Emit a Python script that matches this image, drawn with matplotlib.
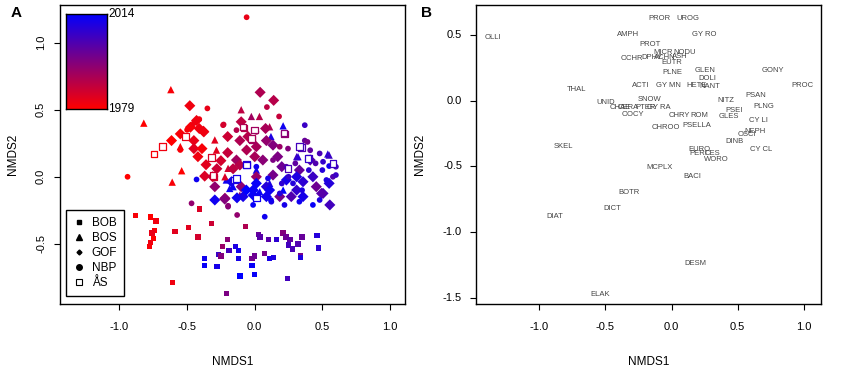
import numpy as np
import matplotlib
matplotlib.use("Agg")
import matplotlib.pyplot as plt
from matplotlib.lines import Line2D

plt.rcParams['font.family'] = ['Liberation Sans', 'DejaVu Sans']
plt.rcParams['axes.unicode_minus'] = False

# ---- panel A: NMDS site scores (x, y, year) ----
bob = [(-0.88,-0.29,1980), (-0.77,-0.30,1979), (-0.73,-0.33,1981), (-0.74,-0.40,1980), (-0.76,-0.42,1982),
       (-0.75,-0.46,1979), (-0.77,-0.49,1981), (-0.78,-0.52,1980), (-0.59,-0.41,1983), (-0.41,-0.24,1984),
       (-0.49,-0.38,1983), (-0.42,-0.45,1985), (-0.32,-0.35,1986), (-0.61,-0.79,1981), (-0.07,-0.37,1990),
       (-0.20,-0.47,1995), (-0.24,-0.52,1993), (-0.19,-0.55,2005), (-0.27,-0.58,2006), (-0.25,-0.59,1996),
       (-0.37,-0.61,2012), (-0.37,-0.66,2013), (-0.28,-0.67,2011), (-0.14,-0.52,2010), (-0.12,-0.55,2012),
       (-0.12,-0.61,2011), (-0.11,-0.74,2014), (-0.02,-0.66,2013), (-0.02,-0.61,1998), (0.00,-0.59,1999),
       (-0.00,-0.73,2013), (-0.21,-0.87,1997), (0.03,-0.43,2000), (0.04,-0.45,2002), (0.10,-0.47,2002),
       (0.07,-0.57,1998), (0.16,-0.47,2008), (0.14,-0.60,2010), (0.11,-0.61,2011), (0.21,-0.42,1996),
       (0.23,-0.45,1999), (0.26,-0.47,2001), (0.25,-0.51,2005), (0.28,-0.54,2004), (0.32,-0.50,2003),
       (0.35,-0.45,2000), (0.34,-0.59,1998), (0.34,-0.60,2010), (0.46,-0.44,2009), (0.47,-0.53,2008),
       (0.24,-0.76,2005)]

bos = [(-0.62,0.65,1980), (-0.82,0.40,1979), (-0.10,0.50,1988), (-0.025,0.45,1992), (0.035,0.45,1989),
       (-0.55,0.225,1980), (-0.54,0.045,1979), (-0.295,0.275,1983), (0.21,0.38,2012), (0.12,0.30,2010),
       (0.54,0.17,2008), (0.31,0.15,2005), (-0.61,-0.04,1980), (-0.21,-0.024,2012), (-0.16,-0.074,2013),
       (0.012,0.05,2011), (0.11,-0.049,2010), (0.21,-0.099,2014), (0.037,-0.111,2013), (0.32,0.15,2008),
       (0.55,0.162,2006), (-0.283,0.199,1983), (-0.197,0.063,1985), (-0.22,0.0,1984), (0.11,0.373,1990),
       (0.197,0.087,2009), (-0.185,-0.087,2012), (-0.11,-0.137,1994), (0.025,-0.124,2013)]

gof = [(-0.48,0.53,1981), (-0.475,0.37,1980), (-0.41,0.36,1981), (-0.376,0.335,1982), (-0.55,0.32,1980),
       (-0.615,0.27,1979), (-0.43,0.42,1981), (-0.45,0.27,1982), (-0.38,0.34,1981), (-0.45,0.21,1983),
       (-0.39,0.21,1980), (-0.36,0.09,1983), (-0.37,0.005,1984), (-0.42,0.15,1981), (-0.31,0.0,1986),
       (0.04,0.63,1990), (0.14,0.57,1989), (-0.10,0.41,1988), (-0.11,0.27,1990), (0.012,0.224,1991),
       (0.086,0.27,1994), (0.135,0.236,1996), (-0.06,0.20,1990), (-0.135,0.125,1992), (-0.11,0.088,1989),
       (0.012,0.0,1993), (0.06,0.125,1995), (0.17,0.15,1997), (0.20,0.075,1999), (0.135,0.013,1998),
       (0.33,0.05,2000), (0.41,0.125,2002), (0.455,-0.074,1999), (0.505,-0.124,2004), (0.555,-0.21,2005),
       (0.27,-0.148,2003), (0.185,-0.148,1998), (-0.10,-0.074,1995), (-0.22,-0.16,1993), (-0.295,-0.074,1994),
       (-0.295,-0.173,2012), (-0.086,-0.148,2011), (-0.012,-0.099,2013), (-0.172,-0.037,2012), (0.086,-0.074,2009),
       (0.31,-0.099,2007), (0.357,-0.037,2008), (0.43,0.0,2006), (0.55,-0.049,2009), (-0.062,-0.099,2014),
       (0.012,-0.049,2013), (0.11,-0.099,2012), (0.234,-0.024,2011), (0.31,0.0,2010), (0.086,-0.148,2012),
       (0.357,-0.148,2011), (-0.222,-0.166,1996), (-0.131,-0.157,2012), (-0.012,-0.137,2013), (0.494,-0.124,2002),
       (-0.25,0.12,1985), (-0.20,0.18,1987), (-0.16,0.06,1988), (-0.28,0.06,1986), (-0.05,0.30,1989),
       (0.0,0.15,1991), (-0.20,0.30,1986), (0.08,0.36,1991)]

nbp = [(-0.06,1.19,1982), (-0.35,0.51,1982), (0.09,0.52,1988), (0.18,0.45,1987), (-0.23,0.39,1985),
       (-0.41,0.43,1981), (-0.94,0.0,1979), (0.37,0.385,2006), (-0.43,-0.02,2012), (-0.135,0.348,1989),
       (0.012,0.335,1990), (0.185,0.224,1993), (0.246,0.21,1996), (0.37,0.27,2000), (0.39,0.26,1998),
       (0.41,0.198,2001), (0.48,0.174,2004), (0.505,0.112,2007), (0.60,0.075,2005), (0.578,0.0,2003),
       (0.53,-0.024,2010), (0.60,0.013,2006), (0.234,0.075,2002), (0.135,0.125,1997), (-0.234,0.385,1985),
       (-0.467,-0.198,1994), (-0.197,-0.223,1996), (-0.012,-0.21,2013), (0.22,-0.21,2011), (0.33,-0.186,2012),
       (0.43,-0.21,2013), (0.48,-0.173,2010), (0.123,-0.186,2010), (0.185,-0.124,2009), (0.283,-0.049,2009),
       (0.098,-0.012,2011), (0.012,0.075,2012), (0.12,-0.174,2012), (-0.197,-0.216,1995), (-0.13,-0.285,1994),
       (0.074,-0.298,2012), (-0.45,0.40,1981), (-0.50,0.35,1980), (-0.55,0.20,1980), (0.25,0.0,2007),
       (0.40,0.05,2008), (0.45,0.10,2003), (0.30,0.10,2001), (0.20,-0.05,2008), (0.35,-0.10,2010),
       (0.55,0.08,2012), (0.50,0.05,2009)]

aas = [(-0.745,0.17,1980), (-0.68,0.224,1981), (-0.51,0.30,1982), (-0.32,0.145,1984), (-0.30,0.0,1985),
       (-0.08,0.365,1989), (-0.02,0.28,1992), (0.22,0.32,1994), (0.345,0.22,2003), (0.40,0.14,2005),
       (0.58,0.10,2006), (-0.06,0.09,2008), (-0.15,-0.025,2010), (-0.135,-0.012,2011), (-0.062,0.088,2010),
       (0.394,0.137,2007), (0.33,0.224,2005), (0.246,0.062,2004), (-0.025,0.286,1991), (-0.086,0.373,1990),
       (0.0,0.348,1992), (0.217,0.328,1995), (0.012,-0.16,2012), (-0.31,0.01,1986)]

year_min, year_max = 1979, 2014

# ---- panel B: species scores ----
species = ['OLLI', 'PROR', 'UROG', 'AMPH', 'GY RO', 'PROT', 'OCHR', 'DPHY', 'MICR', 'NODU',
           'ACHN', 'ASH', 'EUTR', 'PLNE', 'GLEN', 'DOLI', 'ACTI', 'GY MN', 'HETE', 'NANT',
           'GONY', 'PROC', 'PSAN', 'THAL', 'UNID', 'SNOW', 'CHAE', 'CERA', 'PTER', 'GY RA',
           'OOCY', 'CHRY', 'ROM', 'NITZ', 'PSEI', 'GLES', 'PLNG', 'CY LI', 'CHROO', 'PSELLA',
           'NEPH', 'OSCI', 'DINB', 'CY CL', 'EURO', 'PERI', 'CES', 'WORO', 'SKEL', 'MCPLX',
           'BACI', 'BOTR', 'DICT', 'DIAT', 'DESM', 'ELAK']
sp_x = [-1.35, -0.09, 0.12, -0.33, 0.245, -0.165, -0.30, -0.15, -0.065, 0.10,
        -0.05, 0.06, 0.00, 0.01, 0.25, 0.27, -0.23, -0.02, 0.19, 0.29,
        0.77, 0.99, 0.64, -0.72, -0.50, -0.17, -0.39, -0.33, -0.20, -0.10,
        -0.29, 0.055, 0.21, 0.41, 0.475, 0.43, 0.70, 0.66, -0.04, 0.19,
        0.63, 0.57, 0.48, 0.68, 0.21, 0.20, 0.31, 0.34, -0.815, -0.09,
        0.155, -0.32, -0.45, -0.88, 0.18, -0.54]
sp_y = [0.48, 0.63, 0.63, 0.51, 0.51, 0.43, 0.32, 0.33, 0.37, 0.37,
        0.33, 0.34, 0.29, 0.22, 0.23, 0.17, 0.12, 0.12, 0.12, 0.11,
        0.23, 0.12, 0.04, 0.09, -0.01, 0.01, -0.05, -0.05, -0.05, -0.05,
        -0.10, -0.11, -0.11, 0.00, -0.07, -0.12, -0.04, -0.15, -0.20, -0.19,
        -0.23, -0.26, -0.31, -0.37, -0.37, -0.40, -0.40, -0.45, -0.35, -0.51,
        -0.58, -0.70, -0.82, -0.88, -1.24, -1.48]


def year_colors(years):
    t = (np.asarray(years, float) - year_min) / (year_max - year_min)
    return np.column_stack([1 - t, np.zeros_like(t), t])


def style_axes(ax, yrot):
    ax.tick_params(direction='out', length=4, width=0.8, labelsize=8)
    ax.tick_params(axis='x', pad=9)
    ax.tick_params(axis='y', pad=6)
    for s in ax.spines.values():
        s.set_linewidth(1.0)
    ax.set_xticks([-1.0, -0.5, 0.0, 0.5, 1.0])
    ax.set_xticklabels(['-1.0', '-0.5', '0.0', '0.5', '1.0'])
    ax.set_xlabel('NMDS1', fontsize=8.5, labelpad=17)
    ax.set_ylabel('NMDS2', fontsize=8.5, labelpad=12)
    for lab in ax.get_yticklabels():
        lab.set_rotation(yrot)
        lab.set_va('center')


fig = plt.figure(figsize=(8.56, 3.70), dpi=100)
axA = fig.add_axes([0.070, 0.178, 0.403, 0.808])
axB = fig.add_axes([0.556, 0.178, 0.403, 0.808])

# panel A
sites = [(bob, 's', 15, 'fill'), (bos, '^', 28, 'fill'), (gof, 'D', 32, 'fill'),
         (nbp, 'o', 17, 'fill'), (aas, 's', 22, 'open')]
for data, mk, size, kind in sites:
    arr = np.array(data)
    cols = year_colors(arr[:, 2])
    if kind == 'fill':
        axA.scatter(arr[:, 0], arr[:, 1], marker=mk, s=size, c=cols, linewidths=0, zorder=2)
    else:
        axA.scatter(arr[:, 0], arr[:, 1], marker=mk, s=size, facecolors='white',
                    edgecolors=cols, linewidths=0.9, zorder=3)

axA.set_xlim(-1.44, 1.11)
axA.set_ylim(-0.95, 1.28)
axA.set_yticks([-0.5, 0.0, 0.5, 1.0])
axA.set_yticklabels(['-0.5', '0.0', '0.5', '1.0'])
style_axes(axA, 90)

# colour key
cax = axA.inset_axes([0.017, 0.652, 0.119, 0.318])
grad = np.linspace(1, 0, 200).reshape(-1, 1)
key = np.dstack([1 - grad, np.zeros_like(grad), grad])
cax.imshow(key, aspect='auto', extent=[0, 1, 0, 1])
cax.set_xticks([])
cax.set_yticks([])
for s in cax.spines.values():
    s.set_linewidth(1.0)
cax.text(1.03, 1.0, str(year_max), transform=cax.transAxes, fontsize=8.5, va='center', ha='left')
cax.text(1.03, 0.0, str(year_min), transform=cax.transAxes, fontsize=8.5, va='center', ha='left')

handles = [Line2D([], [], ls='', marker='s', ms=3.5, color='k'),
           Line2D([], [], ls='', marker='^', ms=4.5, color='k'),
           Line2D([], [], ls='', marker='D', ms=2.5, color='k'),
           Line2D([], [], ls='', marker='o', ms=4, color='k'),
           Line2D([], [], ls='', marker='s', ms=4, mfc='white', mec='k', mew=0.8)]
leg = axA.legend(handles, ['BOB', 'BOS', 'GOF', 'NBP', 'ÅS'], loc='lower left',
                 bbox_to_anchor=(0.017, 0.027), borderaxespad=0, fontsize=8.5,
                 handlelength=1.0, handletextpad=0.6, labelspacing=0.25,
                 borderpad=0.6, fancybox=False, framealpha=1, edgecolor='black')
leg.get_frame().set_linewidth(1.0)

# panel B
for name, x, y in zip(species, sp_x, sp_y):
    axB.text(x, y, name, fontsize=5.5, color='#444444', ha='center', va='center')
axB.set_xlim(-1.48, 1.13)
axB.set_ylim(-1.55, 0.73)
axB.set_yticks([-1.5, -1.0, -0.5, 0.0, 0.5])
axB.set_yticklabels(['-1.5', '-1.0', '-0.5', '0.0', '0.5'])
style_axes(axB, 0)

fig.text(0.012, 0.965, 'A', fontsize=11, fontweight='bold', ha='left', va='center')
fig.text(0.492, 0.965, 'B', fontsize=11, fontweight='bold', ha='left', va='center')

fig.savefig('out.png', dpi=100)
